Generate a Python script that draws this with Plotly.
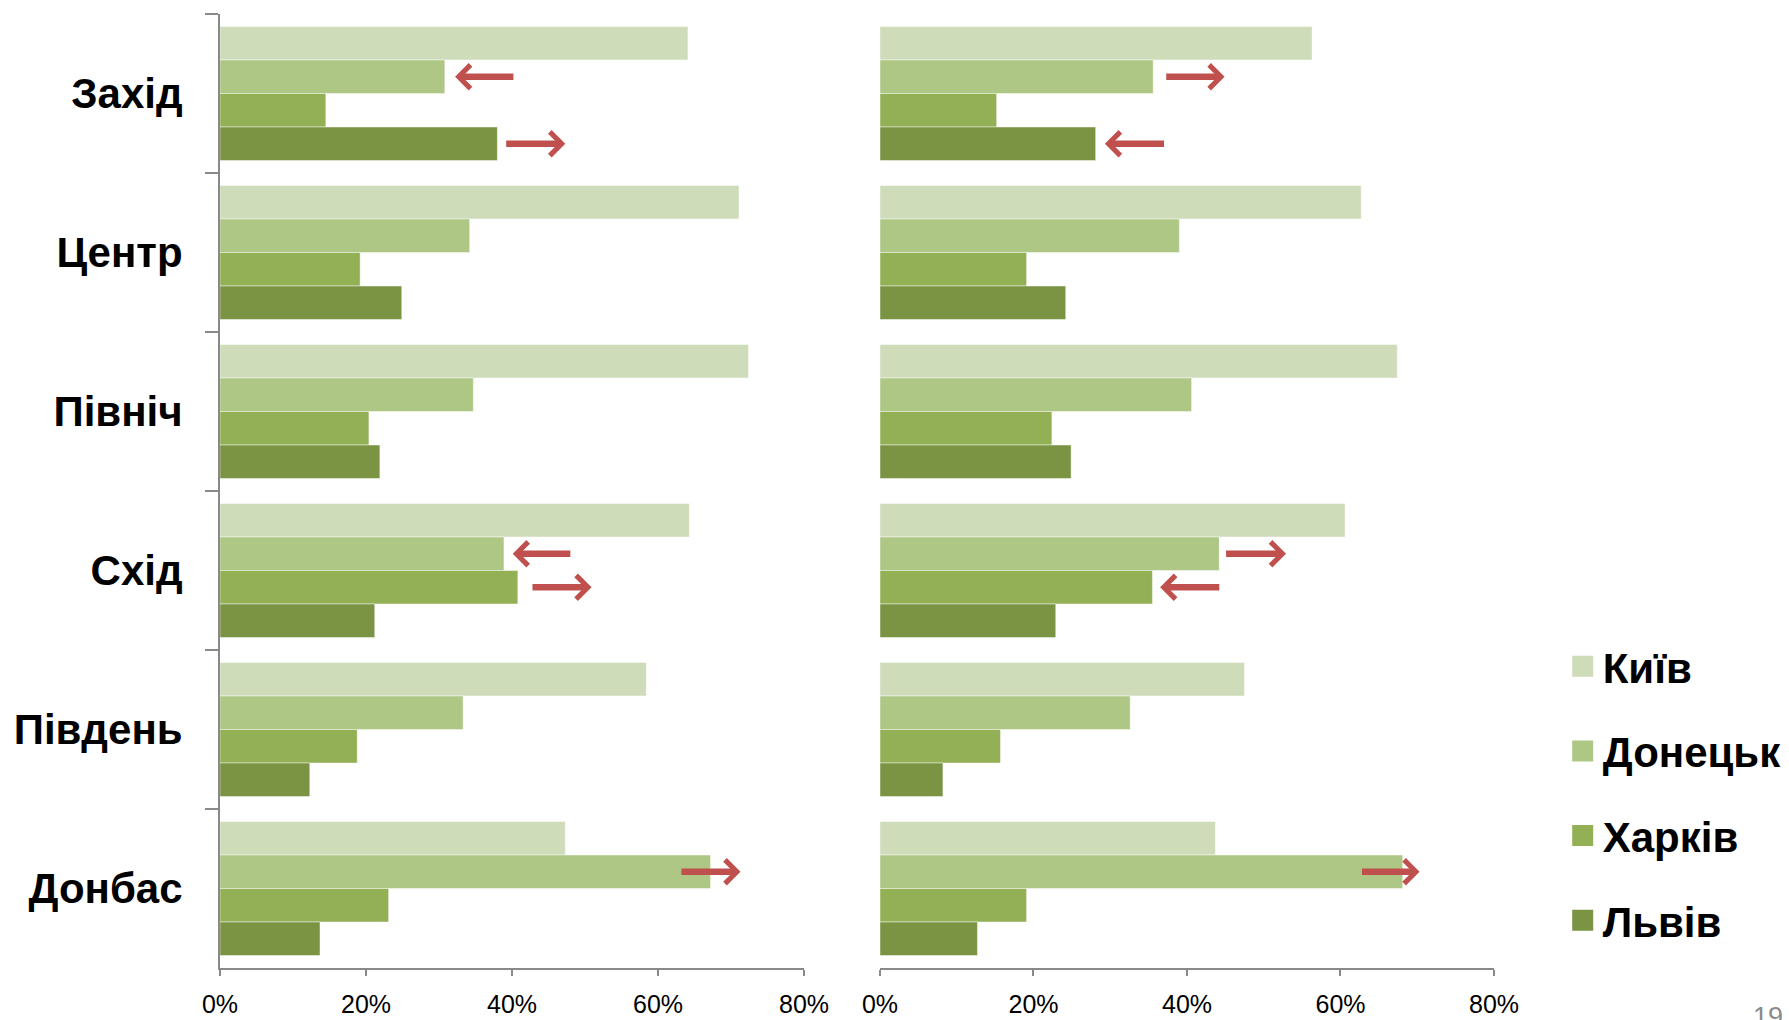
import plotly.graph_objects as go

regions = ["Захід", "Центр", "Північ", "Схід", "Південь", "Донбас"]
series = ["Київ", "Донецьк", "Харків", "Львів"]
colors = ["#CFDCBA", "#AEC785", "#93B055", "#7B9444"]

# left panel values (%)
left_kyiv = [64.1, 71.1, 72.4, 64.3, 58.4, 47.3]
left_donetsk = [30.8, 34.2, 34.7, 38.9, 33.3, 67.2]
left_kharkiv = [14.5, 19.2, 20.4, 40.8, 18.8, 23.1]
left_lviv = [38.0, 24.9, 21.9, 21.2, 12.3, 13.7]

# right panel values (%)
right_kyiv = [56.3, 62.7, 67.4, 60.6, 47.5, 43.7]
right_donetsk = [35.6, 39.0, 40.6, 44.2, 32.6, 68.1]
right_kharkiv = [15.2, 19.1, 22.4, 35.5, 15.7, 19.1]
right_lviv = [28.1, 24.2, 24.9, 22.9, 8.2, 12.7]

x_ticks = [0, 20, 40, 60, 80]
x_tick_labels = ["0%", "20%", "40%", "60%", "80%"]

# arrows: (panel, region, series, tail %, head %)
arrows = [
    ("left", "Захід", "Донецьк", 40.4, 32.2),
    ("left", "Захід", "Львів", 39.0, 47.3),
    ("left", "Схід", "Донецьк", 48.2, 40.1),
    ("left", "Схід", "Харків", 42.6, 50.9),
    ("left", "Донбас", "Донецьк", 63.0, 71.3),
    ("right", "Захід", "Донецьк", 37.1, 44.9),
    ("right", "Захід", "Львів", 37.2, 29.3),
    ("right", "Схід", "Донецьк", 44.9, 52.9),
    ("right", "Схід", "Харків", 44.4, 36.5),
    ("right", "Донбас", "Донецьк", 62.6, 70.3),
]

left_vals = [left_kyiv, left_donetsk, left_kharkiv, left_lviv]
right_vals = [right_kyiv, right_donetsk, right_kharkiv, right_lviv]

FONT = "Liberation Sans, Arial, sans-serif"
BARGAP = 0.157

fig = go.Figure()
for i, name in enumerate(series):
    fig.add_trace(go.Bar(
        y=regions, x=left_vals[i], orientation="h", name=name,
        marker=dict(color=colors[i], line=dict(color="rgba(255,255,255,0.45)", width=1)),
        xaxis="x", yaxis="y", showlegend=False, hoverinfo="x+y+name"))
for i, name in enumerate(series):
    fig.add_trace(go.Bar(
        y=regions, x=right_vals[i], orientation="h", name=name,
        marker=dict(color=colors[i], line=dict(color="rgba(255,255,255,0.45)", width=1)),
        xaxis="x2", yaxis="y2", showlegend=False, hoverinfo="x+y+name"))
# legend entries
for i, name in enumerate(series):
    fig.add_trace(go.Scatter(
        x=[None], y=[None], mode="markers", name=name, legendgroup=name,
        marker=dict(symbol="square", size=16, color=colors[i],
                    line=dict(color=colors[i], width=5)),
        xaxis="x2", yaxis="y2", showlegend=True))

ydom = [0.05098, 0.98627]
axis_line = "#898989"
xcommon = dict(range=[0, 80], tickvals=x_ticks, ticktext=x_tick_labels, showgrid=False,
               zeroline=False, showline=True, linecolor=axis_line, linewidth=2,
               ticks="outside", ticklen=6, tickwidth=2, tickcolor=axis_line,
               ticklabelstandoff=7, automargin=False,
               tickfont=dict(family=FONT, size=25, color="#000000"))

fig.update_layout(
    template="none",
    width=1789, height=1020,
    margin=dict(l=0, r=0, t=0, b=0),
    paper_bgcolor="white", plot_bgcolor="white",
    barmode="group", bargap=BARGAP, bargroupgap=0,
    xaxis=dict(domain=[0.12297, 0.44941], anchor="y", **xcommon),
    xaxis2=dict(domain=[0.49189, 0.83510], anchor="y2", **xcommon),
    yaxis=dict(domain=ydom, anchor="x", type="category", autorange="reversed",
               showline=True, linecolor=axis_line, linewidth=2,
               ticks="outside", ticklen=13, tickwidth=2, tickcolor=axis_line,
               tickson="boundaries", showgrid=False, ticklabelstandoff=27,
               automargin=False,
               tickfont=dict(family=FONT, size=42, color="#000000", weight="bold")),
    yaxis2=dict(domain=ydom, anchor="x2", type="category", autorange="reversed",
                showline=False, showticklabels=False, ticks="", showgrid=False,
                automargin=False),
    legend=dict(x=0.8735, xanchor="left", y=0.222, yanchor="middle",
                traceorder="grouped", tracegroupgap=27, itemsizing="trace",
                font=dict(family=FONT, size=42, color="#000000", weight="bold"),
                bgcolor="rgba(0,0,0,0)"),
    showlegend=True,
)

w = (1 - BARGAP) / len(series)
annotations = []
for panel, reg, ser, tail, head in arrows:
    yi = regions.index(reg) + (-1.5 + series.index(ser)) * w
    xr = "x" if panel == "left" else "x2"
    yr = "y" if panel == "left" else "y2"
    annotations.append(dict(
        x=head, y=yi, ax=tail, ay=yi, xref=xr, yref=yr, axref=xr, ayref=yr,
        text="", showarrow=True, arrowhead=4, arrowsize=0.7, arrowwidth=6.5,
        arrowcolor="#C0504D", standoff=0))
annotations.append(dict(
    x=0.979, y=0.0196, xref="paper", yref="paper", xanchor="left", yanchor="top",
    text="19", showarrow=False, font=dict(family=FONT, size=27, color="#8A8A8A")))
fig.update_layout(annotations=annotations)

fig.write_html("out.html", config={"displayModeBar": False},
               post_script="document.body.style.margin='0';document.body.style.overflow='hidden';")
